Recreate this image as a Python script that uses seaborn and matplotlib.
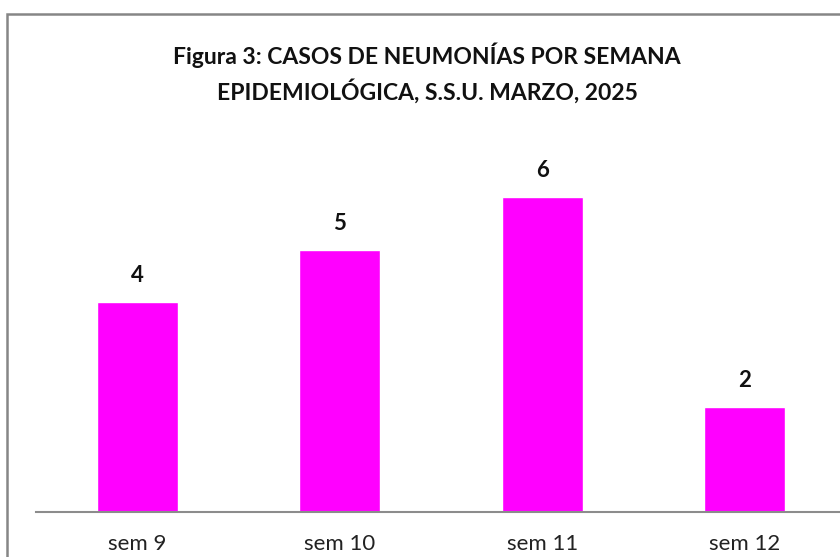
import matplotlib
matplotlib.use("Agg")
import matplotlib.pyplot as plt
import seaborn as sns
import pandas as pd
from matplotlib.patches import Rectangle

semanas = ["sem 9", "sem 10", "sem 11", "sem 12"]
casos = [4, 5, 6, 2]
titulo = "Figura 3: CASOS DE NEUMONÍAS POR SEMANA\nEPIDEMIOLÓGICA, S.S.U. MARZO, 2025"

df = pd.DataFrame({"semana": semanas, "casos": casos})

sns.set_style("white")
plt.rcParams["font.family"] = ["Lato", "DejaVu Sans"]

fig = plt.figure(figsize=(8.4, 5.57), dpi=100)
ax = fig.add_axes([36 / 840, 45 / 557, 810 / 840, 367.5 / 557])

sns.barplot(data=df, x="semana", y="casos", color="#ff00ff", saturation=1,
            width=0.4, ax=ax)

ax.set_xlim(-0.5, 3.5)
ax.set_ylim(0, 7)
ax.set_xlabel("")
ax.set_ylabel("")
ax.set_yticks([])
for s in ["top", "right", "left"]:
    ax.spines[s].set_visible(False)
ax.spines["bottom"].set_color("#8c8c8c")
ax.spines["bottom"].set_linewidth(1.5)
ax.tick_params(axis="x", length=0, pad=16, labelsize=16, labelcolor="#222222")

# etiquetas de valor, ~26 px sobre cada barra
for i, v in enumerate(casos):
    ax.annotate(str(v), (i, v), xytext=(0, 19), textcoords="offset points",
                ha="center", va="center", fontsize=16, fontweight="bold",
                color="#111111")

fig.text(427 / 840, 1 - 73 / 557, titulo, ha="center", va="center",
         fontsize=16.5, fontweight="bold", color="#111111", linespacing=1.55)

frame = Rectangle((7 / 840, -0.1), 1.2, 1 - 14 / 557 + 0.1,
                  transform=fig.transFigure, fill=False,
                  edgecolor="#868686", linewidth=1.8)
fig.patches.append(frame)

fig.savefig("out.png", dpi=100)
